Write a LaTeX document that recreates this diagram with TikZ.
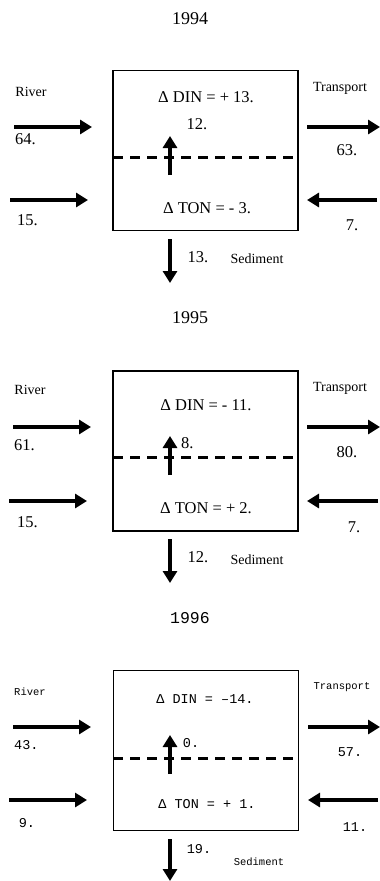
\documentclass[tikz,border=0pt]{standalone}
\usepackage{fontspec}
\setmainfont{Liberation Serif}
\newfontfamily\monofam{Liberation Mono}
\usetikzlibrary{arrows.meta}
\tikzset{
  flow/.style={line width=4.5pt, -{Triangle[length=12pt,width=14pt]}},
  boxn/.style={draw, line width=1.3pt, minimum width=185pt, minimum height=160pt, inner sep=0pt},
  dashline/.style={line width=3pt, dash pattern=on 10pt off 7pt},
  lbl/.style={inner sep=0pt},
  ttl/.style={lbl, font=\fontsize{18}{20}\selectfont},
  big/.style={lbl, font=\fontsize{16.5}{18}\selectfont},
  small/.style={lbl, font=\fontsize{14}{16}\selectfont},
  mttl/.style={lbl, font=\monofam\fontsize{16.5}{18}\selectfont},
  mbig/.style={lbl, font=\monofam\fontsize{13.5}{15}\selectfont},
  msmall/.style={lbl, font=\monofam\fontsize{10.5}{12}\selectfont},
}
\begin{document}
\begin{tikzpicture}[x=1pt,y=-1pt]
\useasboundingbox (0,0) rectangle (380,881);
% ---------------- 1994 ----------------
\node[ttl] (t1) at (190,19) {1994};
\node[boxn] (b1) at (205.5,150.5) {};
\coordinate (dl1) at (113,157); \coordinate (dr1) at (298,157);
\draw[dashline] (dl1) -- (dr1);
\node[big] (din1) at (206,97) {Δ DIN = + 13.};
\node[big] (ton1) at (207,208) {Δ TON = - 3.};
\coordinate (ua1) at (170,175); \coordinate (ub1) at (170,136);
\draw[flow] (ua1) -- (ub1);
\node[big] (ul1) at (197,124) {12.};
\node[small] (riv1) at (31,92) {River};
\coordinate (ra1) at (14,127); \coordinate (rb1) at (92,127);
\draw[flow] (ra1) -- (rb1);
\node[big, anchor=west] (rl1) at (15,139) {64.};
\coordinate (la1) at (10,200); \coordinate (lb1) at (88,200);
\draw[flow] (la1) -- (lb1);
\node[big, anchor=west] (ll1) at (17,220) {15.};
\node[small] (tr1) at (340,88) {Transport};
\coordinate (ta1) at (307,127); \coordinate (tb1) at (380,127);
\draw[flow] (ta1) -- (tb1);
\node[big] (tl1) at (347,150) {63.};
\coordinate (sa1) at (377,200); \coordinate (sb1) at (307,200);
\draw[flow] (sa1) -- (sb1);
\node[big] (sl1) at (352,225) {7.};
\coordinate (da1) at (170,239); \coordinate (db1) at (170,283);
\draw[flow] (da1) -- (db1);
\node[big] (dl1n) at (198,257) {13.};
\node[small] (sed1) at (257,259) {Sediment};
% ---------------- 1995 ----------------
\begin{scope}[yshift=-300pt]
\node[ttl] (t2) at (190,18) {1995};
\node[boxn] (b2) at (205.5,151) {};
\coordinate (dl2) at (113,157); \coordinate (dr2) at (298,157);
\draw[dashline] (dl2) -- (dr2);
\node[big] (din2) at (206,105) {Δ DIN = - 11.};
\node[big] (ton2) at (206,208) {Δ TON = + 2.};
\coordinate (ua2) at (170,175); \coordinate (ub2) at (170,136);
\draw[flow] (ua2) -- (ub2);
\node[big, anchor=west] (ul2) at (181,143) {8.};
\node[small] (riv2) at (30,90) {River};
\coordinate (ra2) at (13,127); \coordinate (rb2) at (91,127);
\draw[flow] (ra2) -- (rb2);
\node[big, anchor=west] (rl2) at (14,145) {61.};
\coordinate (la2) at (9,201); \coordinate (lb2) at (87,201);
\draw[flow] (la2) -- (lb2);
\node[big, anchor=west] (ll2) at (17,222) {15.};
\node[small] (tr2) at (340,88) {Transport};
\coordinate (ta2) at (307,127); \coordinate (tb2) at (380,127);
\draw[flow] (ta2) -- (tb2);
\node[big] (tl2) at (347,152) {80.};
\coordinate (sa2) at (378,201); \coordinate (sb2) at (307,201);
\draw[flow] (sa2) -- (sb2);
\node[big] (sl2) at (354,227) {7.};
\coordinate (da2) at (170,239); \coordinate (db2) at (170,283);
\draw[flow] (da2) -- (db2);
\node[big] (dl2n) at (198,257) {12.};
\node[small] (sed2) at (257,260) {Sediment};
\end{scope}
% ---------------- 1996 ----------------
\begin{scope}[yshift=-600pt]
\node[mttl] (t3) at (190,18) {1996};
\node[boxn] (b3) at (206,150.5) {};
\coordinate (dl3) at (113,158); \coordinate (dr3) at (299,158);
\draw[dashline] (dl3) -- (dr3);
\node[mbig] (din3) at (205,99) {Δ DIN = –14.};
\node[mbig] (ton3) at (207,204) {Δ TON = + 1.};
\coordinate (ua3) at (170,174); \coordinate (ub3) at (170,135);
\draw[flow] (ua3) -- (ub3);
\node[mbig] (ul3) at (191,143) {0.};
\node[msmall] (riv3) at (30,92) {River};
\coordinate (ra3) at (13,127); \coordinate (rb3) at (91,127);
\draw[flow] (ra3) -- (rb3);
\node[mbig, anchor=west] (rl3) at (14,145) {43.};
\coordinate (la3) at (9,200); \coordinate (lb3) at (87,200);
\draw[flow] (la3) -- (lb3);
\node[mbig] (ll3) at (27,223) {9.};
\node[msmall] (tr3) at (342,87) {Transport};
\coordinate (ta3) at (308,127); \coordinate (tb3) at (380,127);
\draw[flow] (ta3) -- (tb3);
\node[mbig] (tl3) at (350,152) {57.};
\coordinate (sa3) at (378,200); \coordinate (sb3) at (308,200);
\draw[flow] (sa3) -- (sb3);
\node[mbig] (sl3) at (355,227) {11.};
\coordinate (da3) at (170,239); \coordinate (db3) at (170,281);
\draw[flow] (da3) -- (db3);
\node[mbig] (dl3n) at (199,249) {19.};
\node[msmall] (sed3) at (259,262) {Sediment};
\end{scope}
\end{tikzpicture}
\end{document}
